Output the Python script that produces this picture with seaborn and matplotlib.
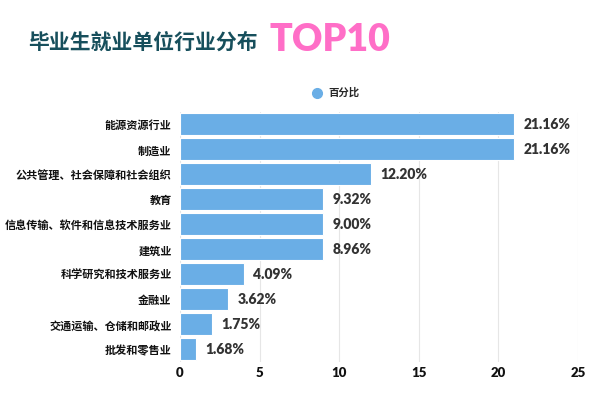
import pandas as pd
import matplotlib.pyplot as plt
from matplotlib.lines import Line2D
import seaborn as sns

sns.set_theme(style='white')
plt.rcParams['font.family'] = ['Noto Sans CJK SC', 'DejaVu Sans']

# data (bar lengths are drawn as whole numbers in the source)
industries = ['能源资源行业', '制造业', '公共管理、社会保障和社会组织', '教育',
              '信息传输、软件和信息技术服务业', '建筑业', '科学研究和技术服务业',
              '金融业', '交通运输、仓储和邮政业', '批发和零售业']
bar_values = [21, 21, 12, 9, 9, 9, 4, 3, 2, 1]
pct_labels = ['21.16%', '21.16%', '12.20%', '9.32%', '9.00%', '8.96%',
              '4.09%', '3.62%', '1.75%', '1.68%']
x_ticks = [0, 5, 10, 15, 20, 25]

df = pd.DataFrame({'industry': industries, 'value': bar_values})

bar_color = '#6aaee6'

fig = plt.figure(figsize=(5.94, 3.97), dpi=100)
ax = fig.add_axes([0.303, 0.0887, 0.670, 0.6297])

sns.barplot(data=df, x='value', y='industry', orient='h', color=bar_color,
            saturation=1, width=0.88, edgecolor='white', linewidth=0.8, ax=ax)

ax.bar_label(ax.containers[0], labels=pct_labels, padding=7,
             fontsize=10, fontweight='heavy', color='#333333', family=['Lato', 'DejaVu Sans'])

ax.set_xlim(0, 25)
ax.set_xticks(x_ticks)
ax.set_ylim(9.5, -0.5)
ax.set_xlabel('')
ax.set_ylabel('')
ax.grid(axis='x', color='#e6e6e6', linewidth=0.8)
ax.set_axisbelow(True)
sns.despine(ax=ax, left=True, bottom=True, right=True, top=True)
ax.tick_params(axis='y', length=0, pad=6, labelsize=8)
ax.tick_params(axis='x', length=0, pad=4, labelsize=9.5)
for t in ax.get_yticklabels():
    t.set_fontweight('heavy')
    t.set_color('#111111')
for t in ax.get_xticklabels():
    t.set_fontweight('heavy')
    t.set_color('#111111')
    t.set_family(['Lato', 'DejaVu Sans'])

# title
fig.text(28 / 594, 1 - 42 / 397, '毕业生就业单位行业分布', fontsize=15, fontweight='heavy',
         color='#174f5c', va='center', ha='left')
fig.text(270 / 594, 1 - 40 / 397, 'TOP10', fontsize=27, fontweight='heavy',
         color='#ff6ec7', va='center', ha='left', family=['Lato', 'DejaVu Sans'])

# legend
handle = Line2D([], [], marker='o', linestyle='', markersize=7,
                markerfacecolor=bar_color, markeredgecolor=bar_color)
leg = fig.legend([handle], ['百分比'], loc='center', bbox_to_anchor=(333 / 594, 1 - 93 / 397),
                 frameon=False, handletextpad=0.1, fontsize=7.5)
for t in leg.get_texts():
    t.set_fontweight('heavy')

plt.savefig('out.png', dpi=100)
